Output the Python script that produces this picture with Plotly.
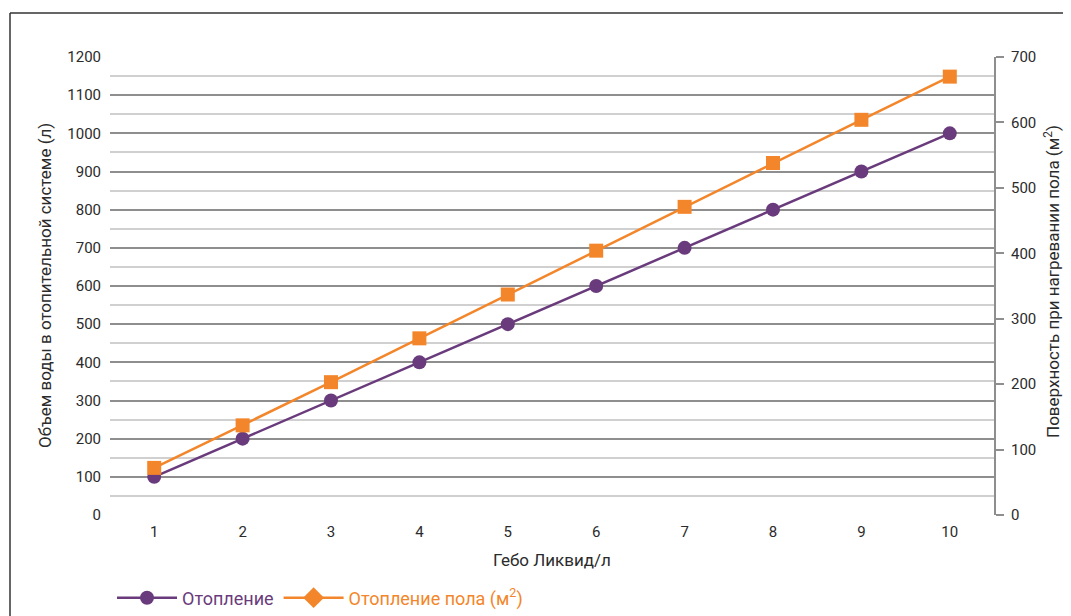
import plotly.graph_objects as go

categories = ["1", "2", "3", "4", "5", "6", "7", "8", "9", "10"]
heating = [100, 200, 300, 400, 500, 600, 700, 800, 900, 1000]
floor_heating = [72, 137, 203, 270, 337, 404, 471, 538, 604, 670]
left_ticks = list(range(0, 1201, 100))
right_ticks = list(range(0, 701, 100))

PURPLE = "#6a3b7c"
ORANGE = "#f3862a"
TXT = "#2b2b2b"
FONT = "Roboto"

OFF = 8  # page body margin
W, H = 1063, 608
# plot area in screen px
SX0, SX1, SY0, SY1 = 110, 994, 57, 515
L = SX0 - OFF
R = W - (SX1 - OFF)
T = SY0 - OFF
B = H - (SY1 - OFF)
pw, ph = W - L - R, H - T - B

def px_x(x):
    return (x - SX0) / pw

def px_y(y):
    return (SY1 - y) / ph

fig = go.Figure()
fig.add_trace(go.Scatter(
    x=categories, y=heating, mode="lines+markers", yaxis="y",
    line=dict(color=PURPLE, width=2.5),
    marker=dict(symbol="circle", size=14, color=PURPLE),
    name="<span style='color:%s'>Отопление</span>" % PURPLE,
))
fig.add_trace(go.Scatter(
    x=categories, y=floor_heating, mode="lines+markers", yaxis="y2",
    line=dict(color=ORANGE, width=2.5),
    marker=dict(symbol="square", size=14, color=ORANGE),
    showlegend=False,
))
fig.add_trace(go.Scatter(
    x=[None], y=[None], mode="lines+markers", yaxis="y2",
    line=dict(color=ORANGE, width=2.5),
    marker=dict(symbol="diamond", size=16, color=ORANGE),
    name="<span style='color:%s'>Отопление пола (м<sup>2</sup>)</span>" % ORANGE,
))

fig.update_layout(
    width=W, height=H,
    margin=dict(l=L, r=R, t=T, b=B, autoexpand=False),
    paper_bgcolor="white", plot_bgcolor="white",
    font=dict(family=FONT, size=15, color=TXT),
    showlegend=True,
    legend=dict(orientation="h", x=px_x(112), y=px_y(598), yanchor="middle", xanchor="left",
                font=dict(size=18), itemwidth=60, traceorder="normal"),
    xaxis=dict(
        type="category", range=[-0.5, 9.5], showgrid=False, zeroline=False,
        showline=False, ticks="", tickfont=dict(size=15, color=TXT), ticklabelstandoff=6,
    ),
    yaxis=dict(
        range=[0, 1200], tickvals=left_ticks, showgrid=True, gridcolor="#8e8e8e", gridwidth=1.5,
        zeroline=False, showline=False, ticks="", tickfont=dict(size=15, color=TXT),
        minor=dict(dtick=50, showgrid=True, gridcolor="#d0d0d0", gridwidth=1.5),
        ticklabelstandoff=8,
    ),
    yaxis2=dict(
        range=[0, 700], tickvals=right_ticks, overlaying="y", side="right",
        showgrid=False, zeroline=False, showline=True, linecolor="#8e8e8e", linewidth=2,
        ticks="outside", ticklen=8, tickcolor="#8e8e8e", tickwidth=1.5,
        tickfont=dict(size=15, color=TXT), ticklabelstandoff=4,
    ),
    shapes=[
        dict(type="line", xref="paper", yref="paper",
             x0=px_x(10), x1=px_x(10), y0=px_y(640), y1=px_y(13),
             line=dict(color="#333333", width=1.5), layer="below"),
        dict(type="line", xref="paper", yref="paper",
             x0=px_x(10), x1=px_x(1090), y0=px_y(13), y1=px_y(13),
             line=dict(color="#333333", width=1.5), layer="below"),
    ],
    annotations=[
        dict(text="Объем воды в отопительной системе (л)", xref="paper", yref="paper",
             x=px_x(45), y=px_y(286), textangle=-90, showarrow=False,
             font=dict(size=17, color=TXT), xanchor="center", yanchor="middle"),
        dict(text="Поверхность при нагревании пола (м<sup>2</sup>)", xref="paper", yref="paper",
             x=px_x(1052), y=px_y(282), textangle=-90, showarrow=False,
             font=dict(size=17, color=TXT), xanchor="center", yanchor="middle"),
        dict(text="Гебо Ликвид/л", xref="paper", yref="paper",
             x=px_x(552), y=px_y(560), showarrow=False,
             font=dict(size=17, color=TXT), xanchor="center", yanchor="middle"),
    ],
)

fig.write_html("out.html")
